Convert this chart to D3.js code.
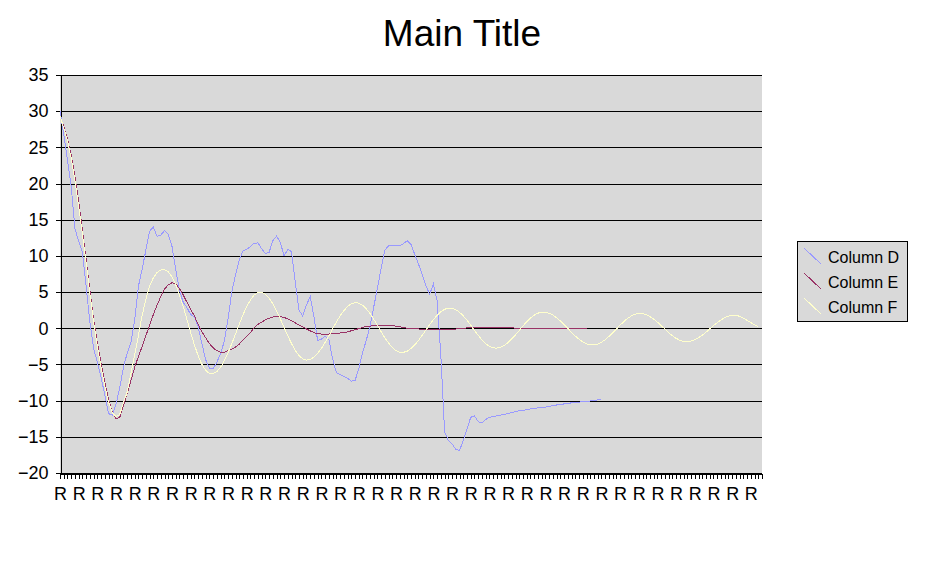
<!DOCTYPE html>
<html><head><meta charset="utf-8">
<script src="https://cdn.jsdelivr.net/npm/d3@7"></script>
<style>
html,body{margin:0;padding:0;background:#fff;}
svg{display:block;font-family:Arial,"Liberation Sans",sans-serif;}
</style></head>
<body>
<svg id="chart" width="927" height="564"></svg>
<script>
const title = "Main Title";
const categories = Array(189).fill("R");
const yTicks = [-20,-15,-10,-5,0,5,10,15,20,25,30,35];
const seriesNames = ["Column D","Column E","Column F"];
const seriesColors = ["#9999ff","#993366","#ffffcc"];

const columnD = [30,26.8,23.3,19.6,13.8,12.0,10.5,5.8,0.8,-2.8,
-4.7,-6.75,-9.25,-11.8,-12.0,-10.5,-8.2,-5.4,-3.4,-2.0,
1.1,5.8,8.2,10.8,13.4,14.0,12.7,12.9,13.5,13.0,
11.3,8.1,5.2,3.6,2.85,1.9,1.6,0.2,-2.1,-4.35,
-5.5,-5.6,-4.7,-3.5,-1.8,1.25,5.0,7.4,9.4,10.7,
10.9,11.3,11.75,11.8,11.0,10.3,10.5,12.1,12.75,11.9,
10.0,10.9,10.6,6.4,2.5,1.7,3.2,4.4,1.6,-1.7,
-1.5,-1.1,-1.55,-4.2,-6.1,-6.4,-6.65,-6.9,-7.3,-7.25,
-5.6,-3.45,-1.7,0.2,2.9,5.5,8.3,10.8,11.4,11.45,
11.5,11.4,11.7,12.1,11.6,10.2,8.9,7.4,5.9,4.7,
6.1,3.8,-3.8,-14.3,-15.5,-16.0,-16.7,-16.9,-15.5,-13.9,
-12.3,-12.1,-12.9,-13.1,-12.6,-12.3,-12.2,-12.1,-12.0,-11.9,
-11.75,-11.65,-11.5,-11.4,-11.35,-11.25,-11.15,-11.1,-11.0,-10.95,
-10.9,-10.8,-10.7,-10.6,-10.55,-10.45,-10.4,-10.3,-10.25,-10.2,
-10.15,-10.1,-10.05,-10.0,-9.9,-9.85];

const columnE = [29.3,27.9,26.2,23.9,21.0,17.5,13.6,9.5,5.3,1.2,
-2.0,-4.8,-7.5,-9.8,-11.6,-12.5,-12.3,-10.7,-9.0,-7.2,
-5.4,-3.9,-2.5,-1.0,0.4,1.9,3.2,4.4,5.4,6.0,
6.3,6.1,5.5,4.6,3.6,2.6,1.7,0.5,-0.5,-1.3,
-2.1,-2.7,-3.1,-3.3,-3.3,-3.1,-2.9,-2.6,-2.2,-1.6,
-1.1,-0.6,0.1,0.55,0.85,1.15,1.4,1.55,1.6,1.6,
1.5,1.3,1.05,0.75,0.45,0.2,-0.1,-0.35,-0.6,-0.75,
-0.8,-0.8,-0.8,-0.75,-0.7,-0.65,-0.6,-0.5,-0.35,-0.2,
-0.05,0.1,0.25,0.3,0.35,0.35,0.35,0.35,0.35,0.35,
0.3,0.2,0.1,0.0,-0.05,-0.05,-0.1,-0.15,-0.2,-0.2,
-0.2,-0.2,-0.2,-0.2,-0.2,-0.2,-0.1,-0.05,0.0,0.05,
0.15,0.15,0.15,0.15,0.15,0.15,0.15,0.15,0.15,0.15,
0.15,0.1,0,0,0,0,0,0,0,0,
0,0,0,0,0,0,0,0,0,0,
0,0];

const columnF = [29.3,27.7,25.9,23.5,20.4,16.9,13.0,9.0,4.8,0.8,
-2.5,-5.4,-8.0,-10.2,-11.7,-12.2,-11.9,-10.3,-8.8,-6.3,
-3.7,-1.0,1.8,4.0,5.8,7.0,7.7,8.05,8.1,7.8,
7.1,6.0,4.6,3.0,1.2,-0.6,-2.3,-3.8,-5.0,-5.8,
-6.25,-6.27,-5.98,-5.38,-4.5,-3.4,-2.13,-0.79,0.57,1.85,
3.0,3.92,4.59,4.94,4.98,4.71,4.17,3.38,2.4,1.29,
0.12,-1.04,-2.12,-3.05,-3.76,-4.22,-4.4,-4.31,-3.99,-3.48,
-2.78,-1.96,-1.05,-0.09,0.84,1.7,2.43,3.0,3.39,3.55,
3.48,3.19,2.7,2.05,1.27,0.41,-0.47,-1.31,-2.06,-2.67,
-3.1,-3.32,-3.33,-3.15,-2.8,-2.3,-1.68,-0.98,-0.24,0.5,
1.2,1.8,2.29,2.62,2.79,2.77,2.57,2.21,1.71,1.1,
0.42,-0.29,-0.98,-1.6,-2.12,-2.49,-2.71,-2.74,-2.62,-2.36,
-1.96,-1.47,-0.89,-0.29,0.33,0.9,1.41,1.81,2.09,2.23,
2.22,2.08,1.82,1.45,1.01,0.5,-0.03,-0.56,-1.07,-1.52,
-1.88,-2.14,-2.28,-2.29,-2.17,-1.93,-1.58,-1.13,-0.63,-0.1,
0.43,0.93,1.36,1.71,1.94,2.04,2.02,1.87,1.62,1.27,
0.84,0.37,-0.12,-0.6,-1.03,-1.39,-1.66,-1.81,-1.85,-1.77,
-1.59,-1.31,-0.95,-0.54,-0.09,0.36,0.78,1.16,1.46,1.68,
1.79,1.78,1.66,1.42,1.1,0.78,0.47,0.2];

const series = [columnD, columnE, columnF];

(function () {
const svg = d3.select("#chart");
const pLeft = 60, pRight = 762, pTop = 75, pBottom = 473;

const x = d3.scaleLinear().domain([0, categories.length - 1]).range([pLeft, pRight]);
const y = d3.scaleLinear().domain([-20, 35]).range([pBottom, pTop]);

svg.append("rect").attr("x", pLeft).attr("y", pTop)
  .attr("width", pRight - pLeft).attr("height", pBottom - pTop)
  .attr("fill", "#d9d9d9");

svg.append("g").selectAll("line").data(yTicks).join("line")
  .attr("x1", pLeft).attr("x2", pRight)
  .attr("y1", d => Math.round(y(d)) + 0.5).attr("y2", d => Math.round(y(d)) + 0.5)
  .attr("stroke", "#000").attr("stroke-width", 1)
  .attr("shape-rendering", "crispEdges");

const yAxis = svg.append("g").attr("transform", `translate(${pLeft + 0.5},0)`)
  .call(d3.axisLeft(y).tickValues(yTicks).tickSize(5).tickSizeOuter(0).tickPadding(7));
yAxis.selectAll("path,line").attr("stroke", "#000").attr("shape-rendering", "crispEdges");
yAxis.selectAll("text").attr("font-size", 18).attr("fill", "#000")
  .attr("font-family", "Arial, 'Liberation Sans', sans-serif");

const xAxis = svg.append("g").attr("transform", `translate(0,${pBottom + 0.5})`)
  .call(d3.axisBottom(x).tickValues(d3.range(categories.length)).tickSize(5).tickSizeOuter(0)
    .tickFormat(d => d % 5 === 0 ? categories[d] : ""));
xAxis.selectAll("path,line").attr("stroke", "#000").attr("shape-rendering", "crispEdges");
xAxis.selectAll("text").attr("font-size", 18).attr("fill", "#000").attr("y", 14).attr("dy", "0.71em")
  .attr("font-family", "Arial, 'Liberation Sans', sans-serif");

const line = d3.line().x((d, i) => x(i)).y(d => y(d));
series.forEach((s, k) => {
  svg.append("path").datum(s)
    .attr("fill", "none").attr("stroke", seriesColors[k]).attr("stroke-width", 1)
    .attr("shape-rendering", "crispEdges")
    .attr("d", line);
});

svg.append("text").attr("x", 462).attr("y", 46).attr("text-anchor", "middle")
  .attr("font-size", 37).attr("fill", "#000").text(title);

const lg = svg.append("g");
lg.append("rect").attr("x", 797.5).attr("y", 241.5).attr("width", 110).attr("height", 80)
  .attr("fill", "#d9d9d9").attr("stroke", "#000").attr("shape-rendering", "crispEdges");
seriesNames.forEach((name, k) => {
  const cy = 257 + k * 25;
  lg.append("line").attr("x1", 804).attr("y1", cy - 9).attr("x2", 821).attr("y2", cy + 7)
    .attr("stroke", seriesColors[k]).attr("stroke-width", 1).attr("shape-rendering", "crispEdges");
  lg.append("text").attr("x", 828).attr("y", cy).attr("dy", "0.35em")
    .attr("font-size", 16).attr("fill", "#000").text(name);
});
})();
</script>
</body></html>
